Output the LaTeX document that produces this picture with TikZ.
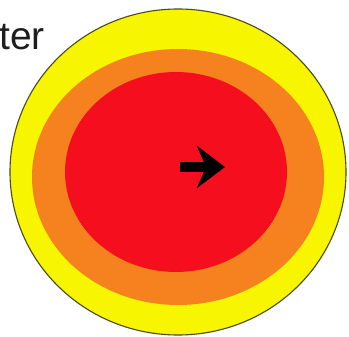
\documentclass[tikz,border=0pt]{standalone}
\usepackage{fontspec}
\setmainfont{Liberation Sans}
\usetikzlibrary{arrows.meta, positioning}
\definecolor{ringyellow}{HTML}{F7F500}
\definecolor{ringorange}{HTML}{F5821E}
\definecolor{ringred}{HTML}{F50F1E}
\definecolor{ringedge}{HTML}{4A4A1A}
\definecolor{txtgray}{HTML}{1E1E1E}

\begin{document}
\begin{tikzpicture}[x=1pt, y=-1pt,
  ring/.style={draw=none},
  lbl/.style={font=\fontsize{39}{39}\selectfont, text=txtgray, inner sep=0pt}
]
  \useasboundingbox (0,0) rectangle (349,337);

  % Rings
  \fill[ringyellow, draw=ringedge, line width=1.1pt] (178,172) ellipse [x radius=168pt, y radius=163pt];
  \fill[ring, ringorange] (178,177) ellipse [x radius=146pt, y radius=128pt];
  \fill[ring, ringred] (176,172) ellipse [x radius=111pt, y radius=100pt];

  % Label
  \node[lbl, anchor=base west] (word) at (-1,50) {ter};

  % Arrow
  \coordinate (tail) at (180,167);
  \coordinate (tip) at (225,167);
  \draw[line width=10pt, black, -{Stealth[length=28pt, width=42pt, inset=9pt]}] (tail) -- (tip);
\end{tikzpicture}
\end{document}
